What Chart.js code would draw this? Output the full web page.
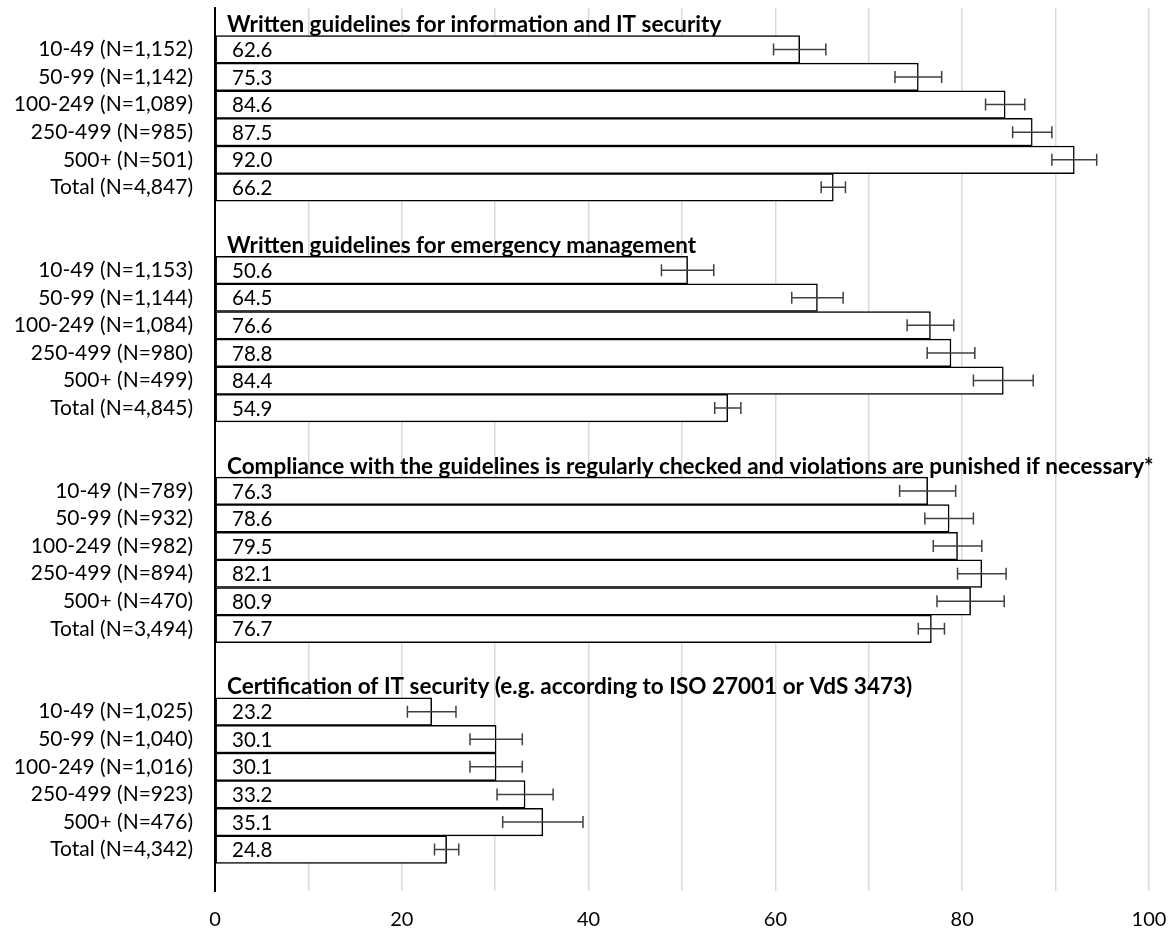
<!DOCTYPE html>
<html>
<head>
<meta charset="utf-8">
<script src="https://cdn.jsdelivr.net/npm/chart.js@4/dist/chart.umd.min.js"></script>
<style>
  html, body { margin: 0; padding: 0; background: #fff; }
  #wrap { width: 1174px; height: 934px; }
</style>
</head>
<body>
<div id="wrap"><canvas id="myChart" width="1174" height="934"></canvas></div>
<script>
// group headings
var groupTitles = [
  'Written guidelines for information and IT security',
  'Written guidelines for emergency management',
  'Compliance with the guidelines is regularly checked and violations are punished if necessary*',
  'Certification of IT security (e.g. according to ISO 27001 or VdS 3473)'
];

// category labels per group
var labelsInfoSec = ['10-49 (N=1,152)', '50-99 (N=1,142)', '100-249 (N=1,089)', '250-499 (N=985)', '500+ (N=501)', 'Total (N=4,847)'];
var labelsEmergency = ['10-49 (N=1,153)', '50-99 (N=1,144)', '100-249 (N=1,084)', '250-499 (N=980)', '500+ (N=499)', 'Total (N=4,845)'];
var labelsCompliance = ['10-49 (N=789)', '50-99 (N=932)', '100-249 (N=982)', '250-499 (N=894)', '500+ (N=470)', 'Total (N=3,494)'];
var labelsCertification = ['10-49 (N=1,025)', '50-99 (N=1,040)', '100-249 (N=1,016)', '250-499 (N=923)', '500+ (N=476)', 'Total (N=4,342)'];

// shares in percent
var valuesInfoSec = [62.6, 75.3, 84.6, 87.5, 92.0, 66.2];
var valuesEmergency = [50.6, 64.5, 76.6, 78.8, 84.4, 54.9];
var valuesCompliance = [76.3, 78.6, 79.5, 82.1, 80.9, 76.7];
var valuesCertification = [23.2, 30.1, 30.1, 33.2, 35.1, 24.8];

// half width of the confidence interval
var errorsInfoSec = [2.8, 2.5, 2.1, 2.1, 2.4, 1.3];
var errorsEmergency = [2.8, 2.75, 2.5, 2.55, 3.2, 1.4];
var errorsCompliance = [3.0, 2.6, 2.6, 2.6, 3.6, 1.4];
var errorsCertification = [2.6, 2.8, 2.8, 3.0, 4.3, 1.3];

var xTicks = [0, 20, 40, 60, 80, 100];

var groups = [
  [labelsInfoSec, valuesInfoSec, errorsInfoSec],
  [labelsEmergency, valuesEmergency, errorsEmergency],
  [labelsCompliance, valuesCompliance, errorsCompliance],
  [labelsCertification, valuesCertification, errorsCertification]
];

// build rows: heading, six bars, blank row
var rowLabels = [];
var rowValues = [];
var rowErrors = [];
var rowTitles = [];
groups.forEach(function (g, gi) {
  rowLabels.push(''); rowValues.push(null); rowErrors.push(null); rowTitles.push(groupTitles[gi]);
  for (var i = 0; i < g[0].length; i++) {
    rowLabels.push(g[0][i]);
    rowValues.push(g[1][i]);
    rowErrors.push(g[2][i]);
    rowTitles.push(null);
  }
  rowLabels.push(''); rowValues.push(null); rowErrors.push(null); rowTitles.push(null);
});

var FONT = 'Lato, "Open Sans", sans-serif';

var extrasPlugin = {
  id: 'extras',
  afterDatasetsDraw: function (chart) {
    var ctx = chart.ctx;
    var xs = chart.scales.x;
    var ys = chart.scales.y;
    var x0 = xs.getPixelForValue(0);
    ctx.save();
    for (var i = 0; i < rowLabels.length; i++) {
      var y = ys.getPixelForValue(i);
      if (rowTitles[i]) {
        ctx.font = 'bold 22.5px ' + FONT;
        ctx.fillStyle = '#000';
        ctx.textAlign = 'left';
        ctx.textBaseline = 'middle';
        ctx.fillText(rowTitles[i], x0 + 12, y + 3);
      }
      if (rowValues[i] != null) {
        ctx.font = '20.5px ' + FONT;
        ctx.fillStyle = '#000';
        ctx.textAlign = 'left';
        ctx.textBaseline = 'middle';
        ctx.fillText(rowValues[i].toFixed(1), x0 + 17, y + 1);

        // whisker
        var xa = xs.getPixelForValue(rowValues[i] - rowErrors[i]);
        var xb = xs.getPixelForValue(rowValues[i] + rowErrors[i]);
        ctx.strokeStyle = '#404040';
        ctx.lineWidth = 1.5;
        ctx.beginPath();
        ctx.moveTo(xa, y); ctx.lineTo(xb, y);
        ctx.moveTo(xa, y - 6); ctx.lineTo(xa, y + 6);
        ctx.moveTo(xb, y - 6); ctx.lineTo(xb, y + 6);
        ctx.stroke();
      }
    }
    ctx.restore();
  }
};

var ctx = document.getElementById('myChart').getContext('2d');
var myChart = new Chart(ctx, {
  type: 'bar',
  data: {
    labels: rowLabels,
    datasets: [{
      data: rowValues,
      backgroundColor: '#ffffff',
      borderColor: '#000000',
      borderWidth: 1.5,
      borderSkipped: false,
      categoryPercentage: 1,
      barPercentage: 1
    }]
  },
  options: {
    indexAxis: 'y',
    responsive: false,
    animation: false,
    layout: { padding: { top: 8, right: 25, left: 0, bottom: 0 } },
    plugins: {
      legend: { display: false },
      tooltip: { enabled: false }
    },
    scales: {
      x: {
        min: 0,
        max: 100,
        border: { display: false },
        grid: { color: '#d9d9d9', lineWidth: 1.5, drawTicks: false },
        afterFit: function (scale) {
          scale.height = 43;
          scale.paddingLeft = 0;
          scale.paddingRight = 0;
        },
        ticks: {
          stepSize: 10,
          padding: 17,
          color: '#000',
          font: { family: FONT, size: 20 },
          callback: function (v) { return xTicks.indexOf(v) >= 0 ? v : ''; }
        }
      },
      y: {
        border: { display: true, color: '#000', width: 2 },
        grid: { display: false, drawTicks: false },
        afterFit: function (scale) {
          scale.width = 215;
          scale.paddingTop = 0;
          scale.paddingBottom = 0;
        },
        ticks: {
          padding: 22,
          autoSkip: false,
          color: '#000',
          font: { family: FONT, size: 21 }
        }
      }
    }
  },
  plugins: [extrasPlugin]
});
</script>
</body>
</html>
